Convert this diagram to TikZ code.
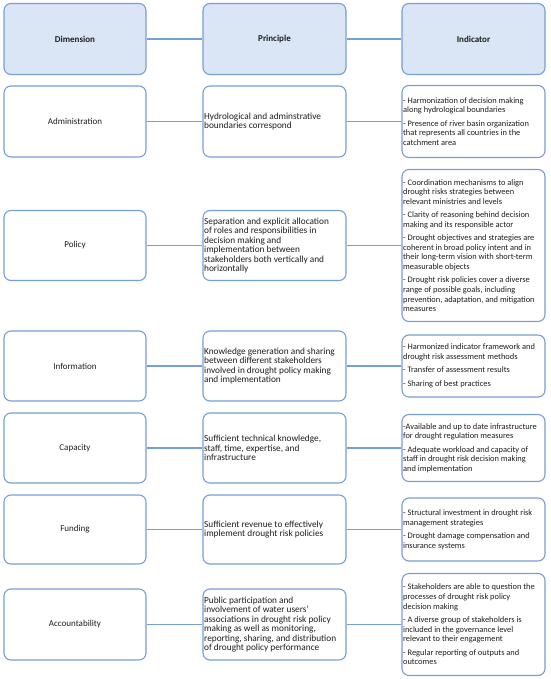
\documentclass[tikz,border=0pt]{standalone}
\usepackage{fontspec}
\setmainfont{Carlito}
\definecolor{bcol}{RGB}{118,158,216}
\definecolor{hcol}{RGB}{218,230,246}
\definecolor{tcol}{RGB}{30,30,30}
\tikzset{
  box/.style={draw=bcol, line width=1.1pt, rounded corners=7pt, fill=white, inner sep=0pt, text=tcol},
  hbox/.style={box, fill=hcol, font=\bfseries\fontsize{9}{10}\selectfont},
  dbox/.style={box, font=\fontsize{9}{10}\selectfont},
  ptext/.style={font=\fontsize{9.3}{9.5}\selectfont, align=left, anchor=west, inner sep=0pt, text=tcol},
  itext/.style={font=\fontsize{8.4}{9.6}\selectfont, align=left, anchor=west, inner sep=0pt, text=tcol},
  conn/.style={draw=bcol, line width=1.1pt}
}
\begin{document}
\begin{tikzpicture}
\useasboundingbox (0,0) rectangle (550pt,-679pt);
% header
\node[hbox, minimum width=142pt, minimum height=71pt] (hd) at (75pt,-39pt) {Dimension};
\node[hbox, minimum width=143pt, minimum height=71pt] (hp) at (274.5pt,-39pt) {Principle};
\node[hbox, minimum width=143pt, minimum height=71pt] (hi) at (473.5pt,-39pt) {Indicator};
\draw[conn] (hd) -- (hp);
\draw[conn] (hp) -- (hi);
% rows: dimension boxes
\node[dbox, minimum width=142pt, minimum height=71pt] (d1) at (75pt,-121.5pt) {Administration};
\node[dbox, minimum width=142pt, minimum height=70pt] (d2) at (75pt,-245.5pt) {Policy};
\node[dbox, minimum width=142pt, minimum height=70pt] (d3) at (75pt,-366pt) {Information};
\node[dbox, minimum width=142pt, minimum height=70pt] (d4) at (75pt,-448pt) {Capacity};
\node[dbox, minimum width=142pt, minimum height=69pt] (d5) at (75pt,-529.5pt) {Funding};
\node[dbox, minimum width=142pt, minimum height=71pt] (d6) at (75pt,-624.5pt) {Accountability};
% principle boxes
\node[box, minimum width=143pt, minimum height=71pt] (p1) at (274.5pt,-121.5pt) {};
\node[box, minimum width=143pt, minimum height=70pt] (p2) at (274.5pt,-245.5pt) {};
\node[box, minimum width=143pt, minimum height=70pt] (p3) at (274.5pt,-366pt) {};
\node[box, minimum width=143pt, minimum height=70pt] (p4) at (274.5pt,-448pt) {};
\node[box, minimum width=143pt, minimum height=69pt] (p5) at (274.5pt,-529.5pt) {};
\node[box, minimum width=143pt, minimum height=71pt] (p6) at (274.5pt,-624.5pt) {};
% indicator boxes
\node[box, minimum width=143pt, minimum height=72pt] (i1) at (473.5pt,-121.5pt) {};
\node[box, minimum width=143pt, minimum height=152pt] (i2) at (473.5pt,-245.5pt) {};
\node[box, minimum width=143pt, minimum height=62pt] (i3) at (473.5pt,-366pt) {};
\node[box, minimum width=143pt, minimum height=67pt] (i4) at (473.5pt,-448pt) {};
\node[box, minimum width=143pt, minimum height=63pt] (i5) at (473.5pt,-529.5pt) {};
\node[box, minimum width=143pt, minimum height=102pt] (i6) at (473.5pt,-624.5pt) {};
% connectors
\foreach \k in {1,...,6}{
  \draw[conn] (d\k) -- (p\k);
  \draw[conn] (p\k) -- (i\k);
}
% principle texts
\node[ptext] (pt1) at ([xshift=1.5pt]p1.west) {Hydrological and adminstrative\\boundaries correspond};
\node[ptext] (pt2) at ([xshift=1.5pt]p2.west) {Separation and explicit allocation\\of roles and responsibilities in\\decision making and\\implementation between\\stakeholders both vertically and\\horizontally};
\node[ptext] (pt3) at ([xshift=1.5pt]p3.west) {Knowledge generation and sharing\\between different stakeholders\\involved in drought policy making\\and implementation};
\node[ptext] (pt4) at ([xshift=1.5pt]p4.west) {Sufficient technical knowledge,\\staff, time, expertise, and\\infrastructure};
\node[ptext] (pt5) at ([xshift=1.5pt]p5.west) {Sufficient revenue to effectively\\implement drought risk policies};
\node[ptext] (pt6) at ([xshift=1.5pt]p6.west) {Public participation and\\involvement of water users'\\associations in drought risk policy\\making as well as monitoring,\\reporting, sharing, and distribution\\of drought policy performance};
% indicator texts
\node[itext] (it1) at ([xshift=1.5pt]i1.west) {- Harmonization of decision making\\along hydrological boundaries\\[3.8pt]- Presence of river basin organization\\that represents all countries in the\\catchment area};
\node[itext] (it2) at ([xshift=1.5pt]i2.west) {- Coordination mechanisms to align\\drought risks strategies between\\relevant ministries and levels\\[3.8pt]- Clarity of reasoning behind decision\\making and its responsible actor\\[3.8pt]- Drought objectives and strategies are\\coherent in broad policy intent and in\\their long-term vision with short-term\\measurable objects\\[3.8pt]- Drought risk policies cover a diverse\\range of possible goals, including\\prevention, adaptation, and mitigation\\measures};
\node[itext] (it3) at ([xshift=1.5pt]i3.west) {- Harmonized indicator framework and\\drought risk assessment methods\\[3.8pt]- Transfer of assessment results\\[3.8pt]- Sharing of best practices};
\node[itext] (it4) at ([xshift=1.5pt]i4.west) {-Available and up to date infrastructure\\for drought regulation measures\\[3.8pt]- Adequate workload and capacity of\\staff in drought risk decision making\\and implementation};
\node[itext] (it5) at ([xshift=1.5pt]i5.west) {- Structural investment in drought risk\\management strategies\\[3.8pt]- Drought damage compensation and\\insurance systems};
\node[itext] (it6) at ([xshift=1.5pt]i6.west) {- Stakeholders are able to question the\\processes of drought risk policy\\decision making\\[3.8pt]- A diverse group of stakeholders is\\included in the governance level\\relevant to their engagement\\[3.8pt]- Regular reporting of outputs and\\outcomes};
\end{tikzpicture}
\end{document}
